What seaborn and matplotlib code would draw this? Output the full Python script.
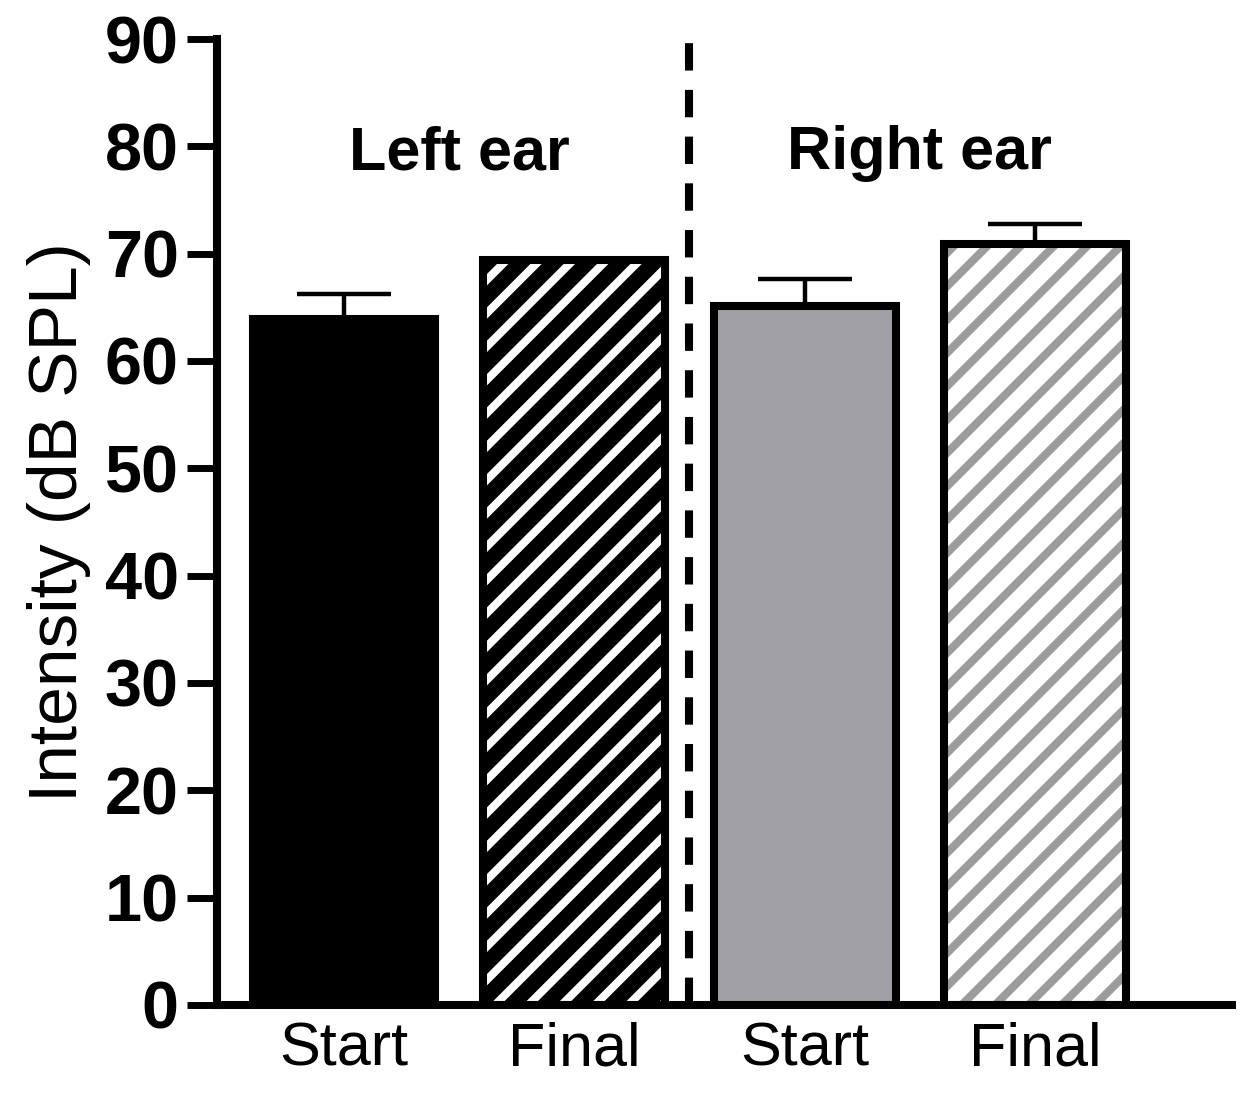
import numpy as np
import pandas as pd
import matplotlib
matplotlib.use('Agg')
import matplotlib.pyplot as plt
import seaborn as sns
from matplotlib.patches import Rectangle

# ============ DADOS ============
groups = ['Left Start', 'Left Final', 'Right Start', 'Right Final']
tick_labels = ['Start', 'Final', 'Start', 'Final']
means = [63.9, 69.4, 65.1, 70.9]
errs = [2.3, 0.0, 2.5, 1.9]
face_colors = ['black', 'black', '#a0a0a4', 'white']
hatch_colors = [None, 'white', None, '#9c9c9c']
ear_labels = ['Left ear', 'Right ear']

# ============ ESTILO ============
sns.set_style('ticks')
plt.rcParams['font.family'] = ['Liberation Sans', 'DejaVu Sans']
plt.rcParams['hatch.linewidth'] = 2.9
for key in ['text.color', 'axes.labelcolor', 'xtick.color', 'ytick.color', 'axes.edgecolor']:
    plt.rcParams[key] = 'black'

fig, ax = plt.subplots(figsize=(1255 / 200, 1108 / 200), dpi=200)
fig.subplots_adjust(left=0.1729, right=0.9817, bottom=0.0930, top=0.9648)

df = pd.DataFrame({'group': groups, 'value': means})
sns.barplot(data=df, x='group', y='value', hue='group', order=groups,
            hue_order=groups, palette=face_colors, saturation=1,
            width=0.79, edgecolor='black', linewidth=2.9,
            legend=False, ax=ax)

bars = list(ax.patches)

# barras hachuradas: hachura na cor propria + contorno preto por cima
for bar, hcol in zip(bars, hatch_colors):
    if hcol is None:
        continue
    bar.set_hatch('//')
    bar.set_edgecolor(hcol)
    bar.set_linewidth(0)
    if hasattr(bar, 'set_hatchcolor'):
        bar.set_hatchcolor(hcol)
    ax.add_patch(Rectangle((bar.get_x(), bar.get_y()), bar.get_width(), bar.get_height(),
                           fill=False, edgecolor='black', linewidth=2.9, zorder=3))

# barras de erro (so para cima)
xs = [b.get_x() + b.get_width() / 2 for b in bars]
ax.errorbar(xs, means, yerr=[np.zeros(len(errs)), errs], fmt='none',
            ecolor='black', elinewidth=1.6, capsize=17, capthick=1.6, zorder=4)

# linha tracejada separando as orelhas
ax.axvline(1.5, color='black', linewidth=2.9, dashes=(3.4, 2.4), zorder=3)

ax.text(0.5, 79.3, ear_labels[0], ha='center', va='center', fontsize=22, fontweight='bold')
ax.text(2.5, 79.3, ear_labels[1], ha='center', va='center', fontsize=22, fontweight='bold')

# eixos
ax.set_ylim(0, 90)
ax.set_xlim(-0.551, 3.856)
ax.set_yticks(range(0, 91, 10))
ax.set_xticks(range(len(groups)))
ax.set_xticklabels(tick_labels)
ax.tick_params(axis='y', length=10.8, width=2.5, labelsize=24, pad=3)
ax.tick_params(axis='x', length=0, labelsize=22, pad=6)
for lab in ax.get_yticklabels():
    lab.set_fontweight('bold')

ax.set_xlabel('')
ax.set_ylabel('Intensity (dB SPL)', fontsize=25, labelpad=5)

sns.despine(ax=ax)
ax.spines['left'].set_linewidth(2.9)
ax.spines['bottom'].set_linewidth(2.9)

plt.savefig('out.png', dpi=200)
plt.close()
